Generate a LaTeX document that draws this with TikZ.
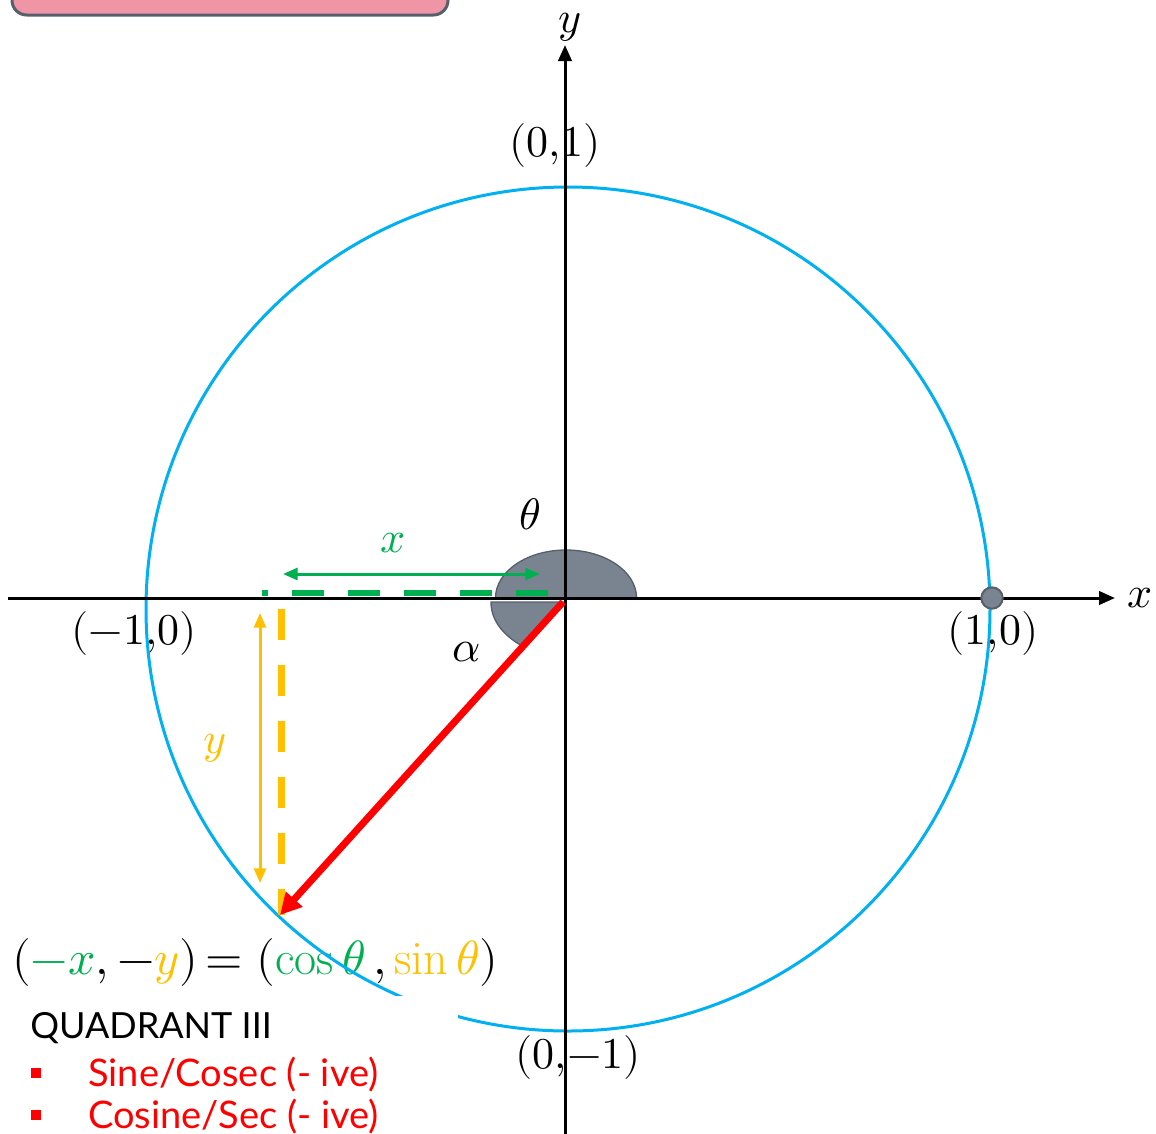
\documentclass[tikz,border=0pt]{standalone}
\usepackage{fontspec}
\usepackage{unicode-math}
\setmathfont{Latin Modern Math}
\newfontfamily\lato{Lato}
\usetikzlibrary{arrows.meta}
\definecolor{cblue}{HTML}{00B0F0}
\definecolor{cgreen}{HTML}{00B050}
\definecolor{cyellow}{HTML}{FFC000}
\definecolor{cgray}{HTML}{7A8491}
\definecolor{cgrayd}{HTML}{56606B}
\definecolor{cpink}{HTML}{F095A6}
\begin{document}
\begin{tikzpicture}[x=0.75pt,y=-0.75pt,
  lbl/.style={font=\fontsize{33}{38}\selectfont, inner sep=0pt},
  txt/.style={font=\lato\fontsize{27}{31}\selectfont, inner sep=0pt, anchor=west},
  axis/.style={line width=2.25pt, -{Triangle[length=12pt,width=10pt]}},
  dbl/.style={line width=2.25pt, {Triangle[length=11pt,width=9pt]}-{Triangle[length=11pt,width=9pt]}},
  grayshape/.style={fill=cgray, draw=cgrayd, line width=1pt}]
\useasboundingbox (0,0) rectangle (1156,1133);
\fill[white] (0,0) rectangle (1156,1133);
% banner
\draw[cgrayd, line width=2.25pt, fill=cpink, rounded corners=11pt] (12,-40) rectangle (448,15);
% coordinates
\coordinate (O) at (565,598);
\coordinate (P) at (280,915);
\coordinate (xs) at (8,598);
\coordinate (xe) at (1115,598);
\coordinate (ys) at (565,1135);
\coordinate (ye) at (565,45);
% gray angle shapes
\path[grayshape] (495.5,598) arc[start angle=180, end angle=0, x radius=52.9pt, y radius=36pt] -- cycle;
\path[grayshape] (563,602) -- (491,602) .. controls (491,622) and (505,636) .. (522,646) -- cycle;
% equation (under circle)
\node[lbl, anchor=west, font=\fontsize{36}{42}\selectfont] (eq) at (12,962) {$(\textcolor{cgreen}{-x}, -\textcolor{cyellow}{y})\,{=}\;(\textcolor{cgreen}{\cos\theta}\,, \textcolor{cyellow}{\sin\theta})$};
% circle
\draw[cblue, line width=2.25pt] (568,609) circle [radius=316.5pt];
% white mask
\fill[white] (0,996) rectangle (458,1140);
% axes
\draw[axis] (xs) -- (xe);
\draw[axis] (ys) -- (ye);
% point (1,0)
\node[circle, fill=cgray, draw=cgrayd, line width=1.5pt, minimum size=16pt, inner sep=0pt] (dot) at (992,598) {};
% green
\coordinate (g1) at (548,593);
\coordinate (g2) at (262,593);
\draw[cgreen, line width=4.5pt, dash pattern=on 24pt off 18pt] (g1) -- (g2);
\coordinate (ga) at (283,574);
\coordinate (gb) at (540,574);
\draw[cgreen, dbl] (ga) -- (gb);
% yellow
\coordinate (y1) at (281,609);
\coordinate (y2) at (281,915);
\draw[cyellow, line width=5.25pt, dash pattern=on 23pt off 19pt] (y1) -- (y2);
\coordinate (ya) at (260,613);
\coordinate (yb) at (260,883);
\draw[cyellow, dbl] (ya) -- (yb);
% red radius
\draw[red, line width=5.25pt, -{Triangle[length=16pt,width=16pt]}] ([shift={(-2,4)}]O) -- (P);
% labels
\node[lbl] (lx) at (1140,598) {$x$};
\node[lbl] (ly) at (570,27) {$y$};
\node[lbl] (l01) at (555,145) {$(0{,}1)$};
\node[lbl] (lm10) at (134,633) {$(-1{,}0)$};
\node[lbl] (l10) at (993,633) {$(1{,}0)$};
\node[lbl] (l0m1) at (578,1057) {$(0{,}{-}1)$};
\node[lbl] (th) at (530,514) {$\theta$};
\node[lbl] (al) at (467,652) {$\alpha$};
\node[lbl, text=cgreen] (gx) at (393,543) {$x$};
\node[lbl, text=cyellow] (yy) at (215,748) {$y$};
% text
\node[txt] (q3) at (30,1028) {QUADRANT III};
\fill[red] (31,1068) rectangle (41,1078);
\fill[red] (31,1110) rectangle (41,1120);
\node[txt, text=red, font=\lato\fontsize{28.5}{32}\selectfont] (s1) at (88,1075) {Sine/Cosec (- ive)};
\node[txt, text=red, font=\lato\fontsize{28.5}{32}\selectfont] (s2) at (88,1117) {Cosine/Sec (- ive)};
\end{tikzpicture}
\end{document}
